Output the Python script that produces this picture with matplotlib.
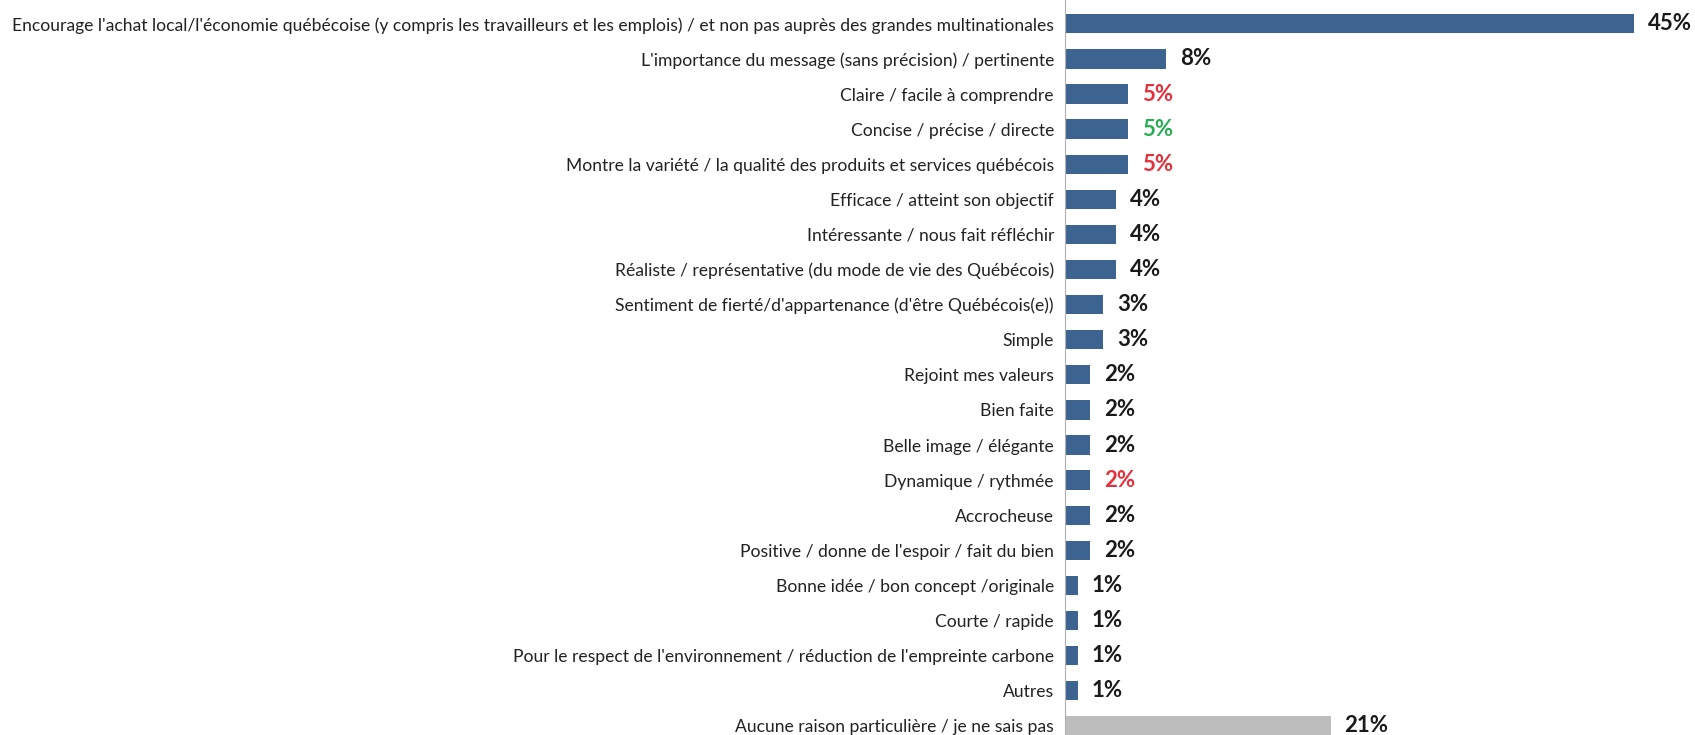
import matplotlib
matplotlib.use("Agg")
import matplotlib.pyplot as plt

# reasons given for liking the ad, share of respondents (%)
labels = [
    "Encourage l'achat local/l'économie québécoise (y compris les travailleurs et les emplois) / et non pas auprès des grandes multinationales",
    "L'importance du message (sans précision) / pertinente",
    "Claire / facile à comprendre",
    "Concise / précise / directe",
    "Montre la variété / la qualité des produits et services québécois",
    "Efficace / atteint son objectif",
    "Intéressante / nous fait réfléchir",
    "Réaliste / représentative (du mode de vie des Québécois)",
    "Sentiment de fierté/d'appartenance (d'être Québécois(e))",
    "Simple",
    "Rejoint mes valeurs",
    "Bien faite",
    "Belle image / élégante",
    "Dynamique / rythmée",
    "Accrocheuse",
    "Positive / donne de l'espoir / fait du bien",
    "Bonne idée / bon concept /originale",
    "Courte / rapide",
    "Pour le respect de l'environnement / réduction de l'empreinte carbone",
    "Autres",
    "Aucune raison particulière / je ne sais pas",
]
values = [45, 8, 5, 5, 5, 4, 4, 4, 3, 3, 2, 2, 2, 2, 2, 2, 1, 1, 1, 1, 21]
# significance marks: red = lower, green = higher than the comparison group
value_colors = ["#1a1a1a", "#1a1a1a", "#e5303c", "#2aac55", "#e5303c",
                "#1a1a1a", "#1a1a1a", "#1a1a1a", "#1a1a1a", "#1a1a1a",
                "#1a1a1a", "#1a1a1a", "#1a1a1a", "#e5303c", "#1a1a1a",
                "#1a1a1a", "#1a1a1a", "#1a1a1a", "#1a1a1a", "#1a1a1a",
                "#1a1a1a"]

BLUE = "#3d6490"
GREY = "#bdbdbd"
bar_colors = [BLUE] * (len(values) - 1) + [GREY]

plt.rcParams["font.family"] = ["Lato", "DejaVu Sans"]

fig = plt.figure(figsize=(16.95, 7.35), dpi=100)
ax = fig.add_axes([1065 / 1695, 0, 630 / 1695, 1])

y = list(range(len(values)))
ax.barh(y, values, height=0.55, color=bar_colors, edgecolor="none")

for yi, v, c in zip(y, values, value_colors):
    ax.annotate(f"{v}%", (v, yi), xytext=(10, 0), textcoords="offset points",
                va="center", ha="left", fontsize=16, fontweight="bold", color=c)

ax.set_xlim(0, 49.8)
ax.set_ylim(20.26, -0.678)
ax.set_yticks(y)
ax.set_yticklabels(labels, fontsize=12.6, color="#222222")
ax.tick_params(axis="y", length=0, pad=8)
ax.set_xticks([])

for side in ["top", "right", "bottom"]:
    ax.spines[side].set_visible(False)
ax.spines["left"].set_color("#b0b0b0")
ax.spines["left"].set_linewidth(0.8)

fig.savefig("out.png", dpi=100)
